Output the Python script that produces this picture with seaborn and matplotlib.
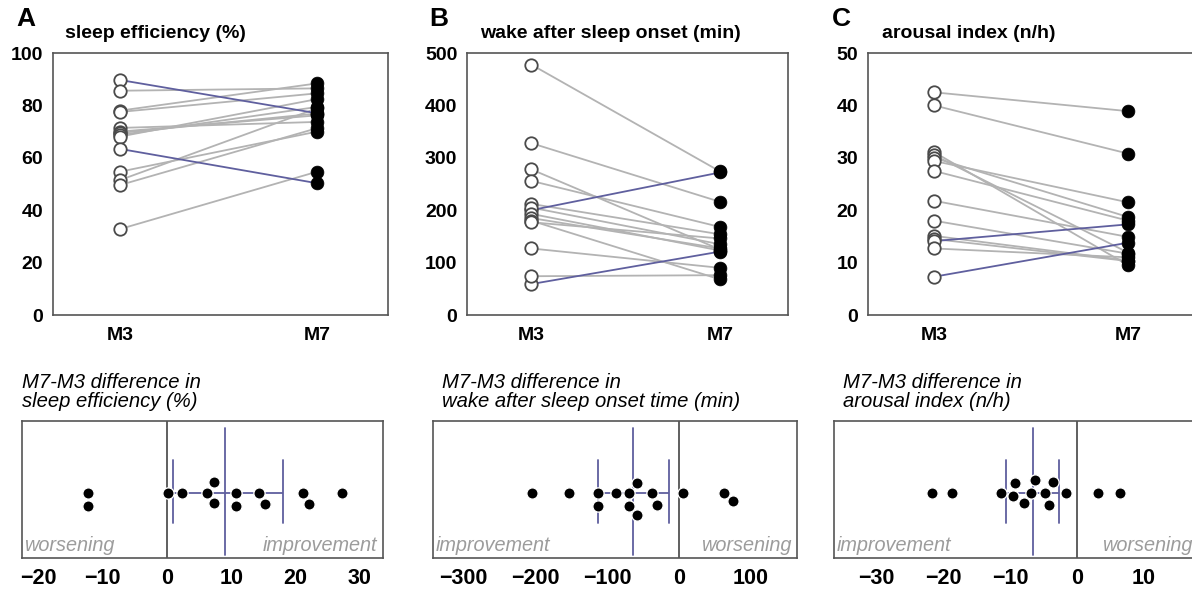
import numpy as np
import pandas as pd
import matplotlib
matplotlib.use("Agg")
import matplotlib.pyplot as plt
import seaborn as sns

sns.set_style("white")
plt.rcParams['font.family'] = ['Liberation Sans', 'DejaVu Sans']
plt.rcParams['text.color'] = 'black'
plt.rcParams['xtick.color'] = 'black'
plt.rcParams['ytick.color'] = 'black'

# ---------------- data ----------------
times = ["M3", "M7"]

# A: sleep efficiency (%)
se_m3 = [89.7, 85.6, 78.0, 77.5, 71.4, 70.0, 69.5, 68.7, 68.1, 63.4, 54.7, 51.5, 49.6, 32.8]
se_m7 = [77.0, 86.5, 88.4, 84.6, 73.7, 76.2, 76.9, 79.4, 82.4, 50.3, 70.0, 78.9, 71.3, 54.7]
se_diff = [-12.3, -12.3, 0.2, 2.3, 6.2, 7.4, 7.4, 10.7, 10.7, 14.3, 15.2, 21.2, 22.1, 27.2]
se_blue = [0, 9]

# B: wake after sleep onset (min)
waso_m3 = [478, 328, 278, 256, 200, 59, 74, 127, 212, 205, 193, 185, 180, 177]
waso_m7 = [274, 216, 125, 168, 272, 121, 76, 90, 154, 135, 123, 127, 68, 146]
waso_diff = [-204, -153, -112, -112, -88, -70, -70, -58, -58, -37, -31, 6, 62, 75]
waso_blue = [4, 5]

# C: arousal index (n/h)
ai_m3 = [42.5, 40.0, 31.1, 30.5, 30.0, 29.4, 27.5, 21.8, 18.0, 15.1, 14.5, 14.1, 12.7, 7.3]
ai_m7 = [38.9, 30.8, 9.5, 11.9, 18.7, 21.5, 18.0, 14.9, 11.7, 10.4, 10.3, 17.3, 11.0, 13.8]
ai_diff = [-21.6, -18.6, -11.3, -9.5, -9.2, -7.9, -6.9, -6.3, -4.7, -4.2, -3.6, -1.7, 3.2, 6.5]
ai_blue = [11, 13]

# summary bars in the difference panels: centre line and the two whiskers
diff_mid = [9.0, -64, -6.6]
diff_lo = [1.0, -112, -10.6]
diff_hi = [18.0, -13.5, -2.7]

letters = ["A", "B", "C"]
titles = ["sleep efficiency (%)", "wake after sleep onset (min)", "arousal index (n/h)"]
diff_titles = ["M7-M3 difference in\nsleep efficiency (%)",
               "M7-M3 difference in\nwake after sleep onset time (min)",
               "M7-M3 difference in\narousal index (n/h)"]
ymax = [100, 500, 50]
ystep = [20, 100, 10]
diff_ticks = [[-20, -10, 0, 10, 20, 30], [-300, -200, -100, 0, 100], [-30, -20, -10, 0, 10]]
diff_xlim = [(-22.5, 33.6), (-342, 164), (-36.3, 18.1)]
left_word = ["worsening", "improvement", "improvement"]
right_word = ["improvement", "worsening", "worsening"]

pairs = [(se_m3, se_m7), (waso_m3, waso_m7), (ai_m3, ai_m7)]
diffs = [se_diff, waso_diff, ai_diff]
blues = [se_blue, waso_blue, ai_blue]

# ---------------- layout (pixels: left, top, width, height) ----------------
W, H = 1192, 593
def rect(l, t, w, h):
    return [l / W, 1 - (t + h) / H, w / W, h / H]

top_px = [(53, 53, 335, 262), (467, 53, 321, 262), (868, 53, 330, 262)]
bot_px = [(22, 421, 361, 137), (433, 421, 364, 137), (834, 421, 364, 137)]
letter_x = [16, 429, 832]
title_x = [65, 480, 882]
dtitle_x = [22, 442, 843]

GRAY = "#b3b3b3"
BLUE = "#5f5f9e"
FRAME = "#555555"

fig = plt.figure(figsize=(W / 100, H / 100), dpi=100)

for i in range(3):
    m3, m7 = pairs[i]
    n = len(m3)
    m3 = np.array(m3, dtype=float)
    m7 = np.array(m7, dtype=float)
    worse = np.isin(np.arange(n), blues[i])

    df = pd.DataFrame({
        "subject": np.tile(np.arange(n), 2),
        "time": np.repeat([0, 1], n),
        "value": np.concatenate([m3, m7]),
        "worse": np.tile(worse, 2),
    })

    ax = fig.add_axes(rect(*top_px[i]))
    sns.lineplot(data=df, x="time", y="value", units="subject", estimator=None,
                 hue="worse", hue_order=[False, True], palette=[GRAY, BLUE],
                 lw=1.3, legend=False, ax=ax, zorder=1)
    sns.scatterplot(x=np.zeros(n), y=m3, ax=ax, s=80, color="white",
                    edgecolor="#4a4a4a", linewidth=1.3, zorder=3)
    sns.scatterplot(x=np.ones(n), y=m7, ax=ax, s=85, color="black",
                    edgecolor="black", linewidth=0.5, zorder=3)
    ax.set_xlim(-0.34, 1.36)
    ax.set_ylim(0, ymax[i])
    ax.set_xticks([0, 1])
    ax.set_xticklabels(times, fontweight="bold", fontsize=14)
    yt = np.arange(0, ymax[i] + 1, ystep[i])
    ax.set_yticks(yt)
    ax.set_yticklabels([str(v) for v in yt], fontweight="bold", fontsize=14)
    ax.tick_params(axis="both", length=0)
    ax.tick_params(axis="x", pad=9)
    ax.tick_params(axis="y", pad=7)
    ax.set_xlabel("")
    ax.set_ylabel("")
    for sp in ax.spines.values():
        sp.set_color(FRAME)
        sp.set_linewidth(1.2)

    fig.text(letter_x[i] / W, 1 - 19 / H, letters[i], fontsize=19, fontweight="bold",
             ha="left", va="center")
    fig.text(title_x[i] / W, 1 - 33 / H, titles[i], fontsize=14, fontweight="bold",
             ha="left", va="center")

    # ---- difference panel ----
    bx = fig.add_axes(rect(*bot_px[i]))
    bx.axvline(0, color="#444444", lw=1.2, zorder=1)
    bx.axvline(diff_mid[i], ymin=0.022, ymax=0.95, color=BLUE, lw=1.3, zorder=2)
    bx.axvline(diff_lo[i], ymin=0.255, ymax=0.715, color=BLUE, lw=1.3, zorder=2)
    bx.axvline(diff_hi[i], ymin=0.255, ymax=0.715, color=BLUE, lw=1.3, zorder=2)
    bx.hlines(0, diff_lo[i], diff_hi[i], color=BLUE, lw=1.3, zorder=2)
    sns.swarmplot(x=diffs[i], ax=bx, color="black", size=8.1, linewidth=0.95,
                  edgecolor="white", zorder=3)
    bx.set_xlim(*diff_xlim[i])
    bx.set_ylim(-0.477, 0.523)
    bx.set_yticks([])
    bx.set_xticks(diff_ticks[i])
    bx.set_xticklabels([str(v).replace("-", "\u2212") for v in diff_ticks[i]],
                       fontweight="bold", fontsize=15.5)
    bx.tick_params(axis="x", length=0, pad=7)
    bx.set_xlabel("")
    bx.set_ylabel("")
    for sp in bx.spines.values():
        sp.set_color(FRAME)
        sp.set_linewidth(1.2)
    bx.text(0.006, 0.02, left_word[i], transform=bx.transAxes, ha="left", va="bottom",
            style="italic", color="#9c9c9c", fontsize=14.3)
    bx.text(0.985, 0.02, right_word[i], transform=bx.transAxes, ha="right", va="bottom",
            style="italic", color="#9c9c9c", fontsize=14.3)

    fig.text(dtitle_x[i] / W, 1 - 392 / H, diff_titles[i], fontsize=14.6, style="italic",
             ha="left", va="center", linespacing=1.05)

fig.savefig("out.png", dpi=100)
